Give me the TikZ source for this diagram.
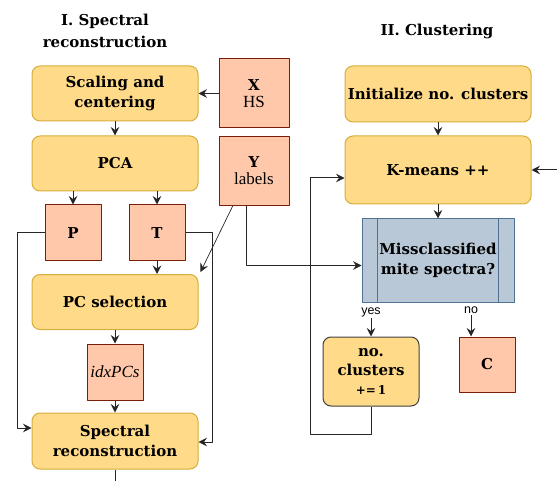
\documentclass[tikz,border=0pt]{standalone}
\usepackage{fontspec}
\setmainfont{DejaVu Serif}
\newfontfamily\labelfont{Liberation Sans}
\newfontfamily\plainfont{Liberation Serif}
\usetikzlibrary{arrows.meta,calc}
\definecolor{stepfill}{HTML}{FFDA88}
\definecolor{stepdraw}{HTML}{D6AE3C}
\definecolor{datafill}{HTML}{FFC8AB}
\definecolor{datadraw}{HTML}{7A1E08}
\definecolor{askfill}{HTML}{B9C8D6}
\definecolor{askdraw}{HTML}{4F7294}
\tikzset{
	stepbox/.style={draw=stepdraw, fill=stepfill, rounded corners=8pt, line width=1pt, minimum width=166pt, minimum height=55pt, align=center, inner sep=1pt, font=\fontsize{15}{20}\selectfont\bfseries},
	databox/.style={draw=datadraw, fill=datafill, line width=1pt, minimum width=56pt, minimum height=56pt, align=center, inner sep=1pt, font=\fontsize{15}{17}\selectfont\bfseries},
	askbox/.style={draw=askdraw, fill=askfill, line width=1pt, minimum width=152pt, minimum height=83pt, align=center, inner sep=1pt, font=\fontsize{15}{20}\selectfont\bfseries},
	title/.style={align=center, font=\fontsize{15}{22}\selectfont\bfseries},
	lbl/.style={font=\labelfont\fontsize{12.5}{14}\selectfont, inner sep=1pt},
	link/.style={->, line width=1pt, black!85}
}
\begin{document}
	\begin{tikzpicture}[x=1pt, y=-1pt, line join=round, >={Stealth[length=8.5pt, width=8.5pt, inset=3pt]}]
		\useasboundingbox (0,0) rectangle (557,481);
		% I. spectral reconstruction
		\node[title] (t1) at (105,31) {I. Spectral\\reconstruction};
		\node[stepbox] (scal) at (115,93.5) {Scaling and\\centering};
		\node[databox, minimum width=70pt, minimum height=69pt] (xhs) at (254,93.5) {X\\{\plainfont\mdseries\fontsize{17}{17}\selectfont HS}};
		\node[stepbox] (pca) at (115,163.5) {PCA};
		\node[databox, minimum width=70pt, minimum height=69pt] (yl) at (254,171) {Y\\{\plainfont\mdseries\fontsize{17}{17}\selectfont labels}};
		\node[databox] (p) at (73,233) {P};
		\node[databox] (t) at (157,233) {T};
		\node[stepbox] (pcs) at (115,302) {PC selection};
		\node[databox, font=\plainfont\itshape\fontsize{17}{17}\selectfont] (idx) at (115,372) {idxPCs};
		\node[stepbox, minimum height=56pt] (rec) at (115,441) {Spectral\\reconstruction};
		\draw[link] (xhs.west |- scal.east) -- (scal.east);
		\draw[link] (scal.south) -- (pca.north);
		\draw[link] (p.north |- pca.south) -- (p.north);
		\draw[link] (t.north |- pca.south) -- (t.north);
		\draw[link] (t.south) -- (t.south |- pcs.north);
		\draw[link, line width=0.7pt] ($(yl.south west)!0.2!(yl.south east)$) -- ([shift={(2pt,2pt)}]pcs.north east);
		\draw[link] (pcs.south) -- (idx.north);
		\draw[link] (idx.south) -- (rec.north);
		\draw[link] (p.west) -- ++(-27,0) |- ([yshift=13pt]rec.west);
		\draw[link] (t.east) -- ++(27,0) |- ([yshift=-1pt]rec.east);
		\draw[line width=1pt, black!85] (rec.south) -- ++(0,20);
		% II. clustering
		\node[title] (t2) at (437,31) {II. Clustering};
		\node[stepbox, minimum width=186pt, minimum height=56pt] (init) at (438,94) {Initialize no. clusters};
		\node[stepbox, minimum width=186pt, minimum height=68pt] (km) at (438,170) {K-means ++};
		\node[askbox] (mis) at (438,260.5) {Missclassified\\mite spectra?};
		\draw[askdraw, line width=1pt] ([xshift=16pt]mis.north west) -- ([xshift=16pt]mis.south west);
		\draw[askdraw, line width=1pt] ([xshift=-16pt]mis.north east) -- ([xshift=-16pt]mis.south east);
		\node[stepbox, draw=black!75, minimum width=96pt, minimum height=69pt, font=\fontsize{15}{19}\selectfont\bfseries] (inc) at (371,371.5) {no.\\clusters\\{\fontsize{12}{12}\selectfont +=\,1}};
		\node[databox, minimum height=55pt] (c) at (487,364.5) {C};
		\node[lbl] (yes) at (371,312) {yes};
		\node[lbl] (no) at (471,310) {no};
		\coordinate (lp) at (310,434);
		\coordinate (rin) at (565,170);
		\draw[link] (init.south) -- (km.north);
		\draw[link] (km.south) -- (mis.north);
		\draw[link] ($(yl.south west)!0.4!(yl.south east)$) |- ([yshift=-5pt]mis.west);
		\draw[link] (yes.south) -- (inc.north);
		\draw[link] (no.south) -- (no.south |- c.north);
		\draw[link] (inc.south) |- (lp) |- ([yshift=-8pt]km.west);
		\draw[link] (rin) -- (km.east);
	\end{tikzpicture}
\end{document}
